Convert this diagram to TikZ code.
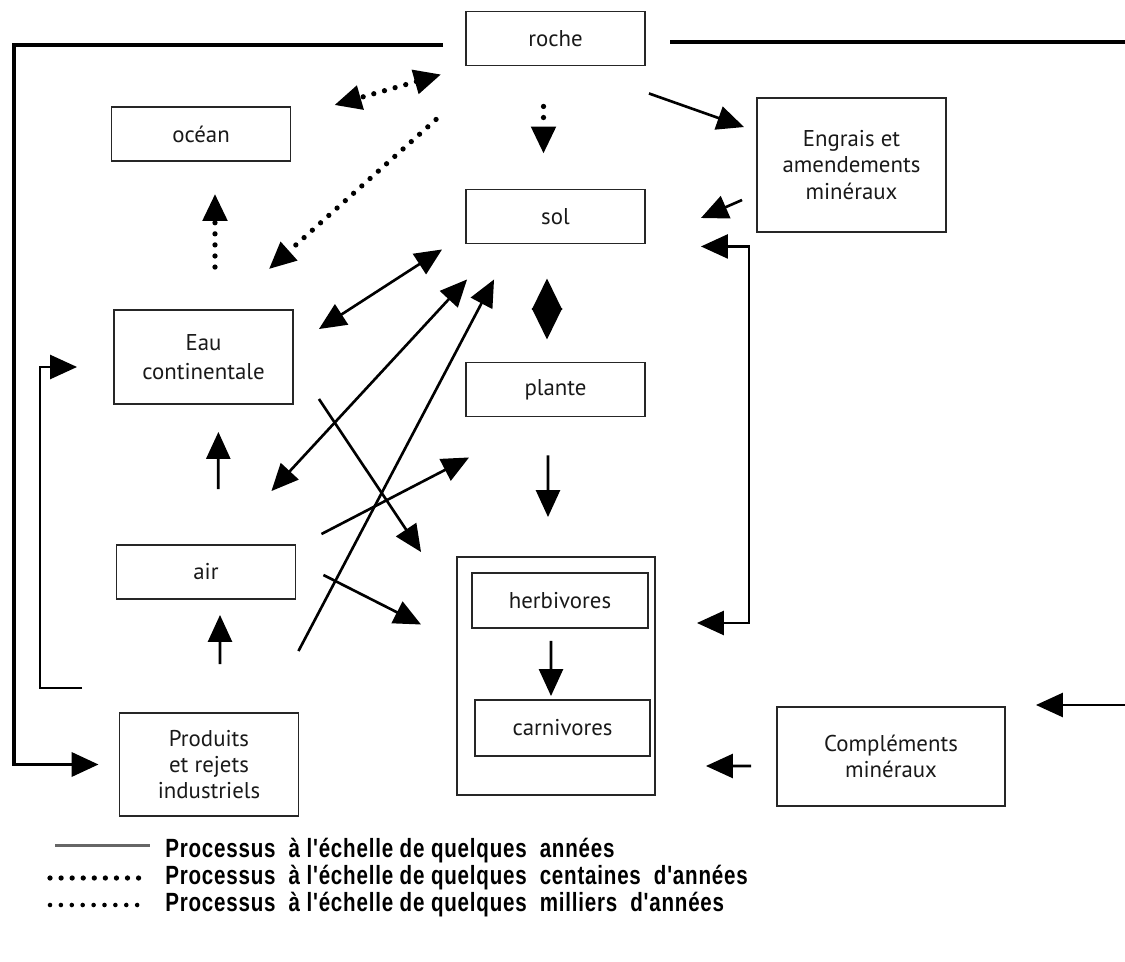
\documentclass[tikz,border=0pt]{standalone}
\usepackage{fontspec}
\setmainfont{PT Sans}
\newfontfamily\legendfont[FakeStretch=0.78,LetterSpace=3]{Liberation Sans}
\usetikzlibrary{arrows.meta,positioning}

\begin{document}
\begin{tikzpicture}[x=0.02cm,y=-0.02cm,>={Triangle[length=0.54cm,width=0.48cm]},
  base box/.style={rectangle,draw=black!85,line width=1.1pt,align=center,inner sep=2pt,
    text=black!90,font=\fontsize{13}{15}\selectfont},
  small box/.style={base box,minimum width=3.58cm,minimum height=1.08cm},
  flow/.style={->,line width=1.5pt},
  dot flow/.style={->,line width=3pt,line cap=round,dash pattern=on 0pt off 6.3pt},
  legend text/.style={anchor=west,inner sep=0pt,font=\legendfont\bfseries\fontsize{15}{17}\selectfont}]

\useasboundingbox (0,0) rectangle (1125,962);

% compartiments
\node[small box] (roche) at (555.5,38.5) {roche};
\node[small box] (ocean) at (201,134) {océan};
\node[small box] (sol) at (555.5,216.5) {sol};
\node[base box,minimum width=3.78cm,minimum height=2.68cm] (engrais) at (851.5,165) {Engrais et\\amendements\\minéraux};
\node[base box,minimum width=3.58cm,minimum height=1.88cm,font=\fontsize{13}{16.5}\selectfont] (eau) at (203.5,357) {Eau\\continentale};
\node[small box] (plante) at (555.5,389.5) {plante};
\node[small box] (air) at (206,572) {air};
\node[base box,minimum width=3.58cm,minimum height=2.06cm] (produits) at (209,764.5) {Produits\\et rejets\\industriels};
\node[base box,minimum width=3.96cm,minimum height=4.76cm] (animaux) at (556,676) {};
\node[base box,minimum width=3.52cm,minimum height=1.1cm] (herbivores) at (560,600.5) {herbivores};
\node[base box,minimum width=3.5cm,minimum height=1.12cm] (carnivores) at (562.5,728) {carnivores};
\node[base box,minimum width=4.56cm,minimum height=1.98cm] (complements) at (891,756.5) {Compléments\\minéraux};

% bouts libres
\coordinate (toitG) at (443,45);
\coordinate (toitD) at (670,42);
\coordinate (bordD) at (1125,42);
\coordinate (entreeD) at (1125,705);
\coordinate (rejet) at (82,688);

% grand tour
\draw[flow,line width=2.1pt,shorten >=0.4cm] (toitG) -- (14,45) |- (produits.west);
\draw[line width=2.1pt] (toitD) -- (bordD);
\draw[flow,shorten >=0.6cm] (entreeD) -- (entreeD -| complements.east);
\draw[flow,shorten >=0.72cm] (rejet) -- (40,688) |- ([yshift=-0.2cm]eau.west);

% milliers / centaines d'annees
\draw[dot flow,<->] ([shift={(-24,8)}]roche.south west) -- ([shift={(43,-1)}]ocean.north east);
\draw[dot flow] ([shift={(-29,53)}]roche.south west) -- ([shift={(-25,-40)}]eau.north east);
\draw[dot flow,shorten <=0.8cm,shorten >=0.7cm] ([xshift=-0.24cm]roche.south) -- ([xshift=-0.24cm]sol.north);
\draw[dot flow,shorten <=0.84cm,shorten >=0.64cm] ([xshift=0.23cm]eau.north) -- ([xshift=0.28cm]ocean.south);

% annees
\draw[flow] ([shift={(3,27)}]roche.south east) -- ([shift={(-12,30)}]engrais.north west);
\draw[flow] ([shift={(-14,35)}]engrais.west) -- ([shift={(55,1.5)}]sol.east);
\draw[flow,<->,shorten <=1.1cm,shorten >=0.96cm] ([yshift=-0.04cm]sol.south east) -- ++(103,0) |- ([yshift=-0.45cm]herbivores.east);
\draw[flow,<->] ([shift={(25,20)}]eau.north east) -- ([shift={(-23,5)}]sol.south west);
\draw[flow,<->] ([shift={(-25,-53)}]air.north east) -- ([shift={(2,35)}]sol.south west);
\draw[flow] ([shift={(-1,-61)}]produits.north east) -- ([shift={(29,35)}]sol.south west);
\draw[flow,<->,>={Triangle[length=0.63cm,width=0.6cm]},shorten <=0.68cm,shorten >=0.44cm] ([xshift=-0.17cm]sol.south) -- ([xshift=-0.17cm]plante.north);
\draw[flow] ([shift={(25,-6)}]eau.south east) -- ([shift={(-35,-4)}]animaux.north west);
\draw[flow] ([shift={(25,-10)}]air.north east) -- ([shift={(4,40)}]plante.south west);
\draw[flow] ([shift={(27,3)}]air.east) -- ([shift={(-50,24)}]herbivores.west);
\draw[flow,shorten <=1.1cm,shorten >=0.54cm] ([xshift=0.24cm]air.north) -- ([xshift=0.3cm]eau.south);
\draw[flow,shorten <=0.96cm,shorten >=0.3cm] ([xshift=0.22cm]produits.north) -- ([xshift=0.28cm]air.south);
\draw[flow,shorten <=0.76cm,shorten >=0.78cm] ([xshift=-0.15cm]plante.south) -- ([xshift=-0.16cm]animaux.north);
\draw[flow,shorten <=0.24cm,shorten >=0.06cm] ([xshift=-0.18cm]herbivores.south) -- ([xshift=-0.23cm]carnivores.north);
\draw[flow,shorten <=0.5cm,shorten >=1cm] ([yshift=-0.19cm]complements.west) -- ([yshift=-1.8cm]animaux.east);

% legende
\node[legend text] (leg1) at (165,851) {Processus\ \ à l'échelle de quelques\ \ années};
\node[legend text] (leg2) at (165,878) {Processus\ \ à l'échelle de quelques\ \ centaines\ \ d'années};
\node[legend text] (leg3) at (165,905) {Processus\ \ à l'échelle de quelques\ \ milliers\ \ d'années};
\draw[line width=1.6pt,black!60] ([xshift=-2.2cm,yshift=3pt]leg1.west) -- ([xshift=-0.3cm,yshift=3pt]leg1.west);
\draw[line width=3pt,line cap=round,dash pattern=on 0pt off 6.3pt] ([xshift=-2.3cm]leg2.west) -- ([xshift=-0.4cm]leg2.west);
\draw[line width=2.6pt,line cap=round,dash pattern=on 0pt off 6.2pt] ([xshift=-2.3cm]leg3.west) -- ([xshift=-0.5cm]leg3.west);
\end{tikzpicture}
\end{document}
